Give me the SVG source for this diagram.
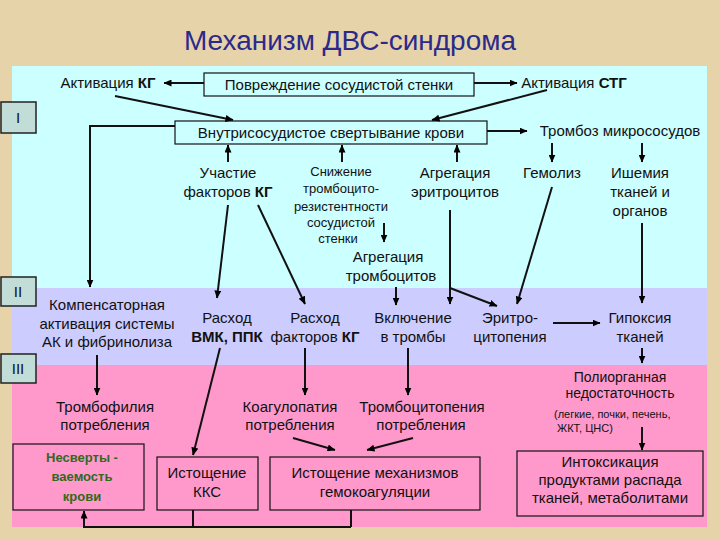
<svg xmlns="http://www.w3.org/2000/svg" width="720" height="540" viewBox="0 0 720 540">
<defs>
<marker id="ah" viewBox="0 0 8 7" refX="7.5" refY="3.5" markerWidth="8" markerHeight="7" markerUnits="userSpaceOnUse" orient="auto">
<path d="M0,0 L8,3.5 L0,7 z" fill="#000"/>
</marker>
<style>
text{font-family:"Liberation Sans",Arial,sans-serif;font-size:15px;fill:#111;text-anchor:middle}
.s{font-size:13px}
.m{font-size:14px}
.xs{font-size:11px;text-anchor:start}
.b{font-weight:bold}
.box{fill:none;stroke:#111;stroke-width:1.2}
.rom{fill:#c2dcd8;stroke:#222;stroke-width:1.5}
.c line,.c path{stroke:#111;stroke-width:2;fill:none;marker-end:url(#ah)}
.c .n{marker-end:none}
.g{fill:#2f6a1c;font-weight:bold;font-size:13px}
</style>
</defs>
<rect width="720" height="540" fill="#e7d3a9"/>
<rect x="12" y="66" width="695" height="222" fill="#ccffff"/>
<rect x="12" y="288" width="695" height="77" fill="#ccccff"/>
<rect x="12" y="365" width="695" height="162" fill="#ff99cc"/>
<text x="350" y="50" style="font-size:27px;fill:#2b2a8c" textLength="332" lengthAdjust="spacingAndGlyphs">Механизм ДВС-синдрома</text>

<g id="roman1"><rect class="rom" x="1" y="102" width="35" height="31"/><text x="18" y="123">I</text></g>
<g id="roman2"><rect class="rom" x="1" y="277" width="35" height="29"/><text x="18" y="297">II</text></g>
<g id="roman3"><rect class="rom" x="1" y="354" width="35" height="29"/><text x="18" y="374">III</text></g>

<g id="aktKG"><text x="108" y="88">Активация <tspan class="b">КГ</tspan></text></g>
<g id="povr"><rect class="box" x="204" y="73" width="270" height="23"/><text x="339" y="90">Повреждение сосудистой стенки</text></g>
<g id="aktSTG"><text x="574" y="88">Активация <tspan class="b">СТГ</tspan></text></g>
<g id="vnutr"><rect class="box" x="175" y="121" width="312" height="23"/><text x="331" y="138">Внутрисосудистое свертывание крови</text></g>
<g id="tromboz"><text x="620" y="136">Тромбоз микрососудов</text></g>
<g id="uchastie"><text x="228" y="178">Участие</text><text x="228" y="197">факторов <tspan class="b">КГ</tspan></text></g>
<g id="snizh"><text class="s" x="341" y="176">Снижение</text><text class="s" x="341" y="193">тромбоцито-</text><text class="s" x="341" y="211">резистентности</text><text class="s" x="341" y="227">сосудистой</text><text class="s" x="338" y="243">стенки</text></g>
<g id="agrEr"><text x="455" y="178">Агрегация</text><text x="455" y="197">эритроцитов</text></g>
<g id="gemoliz"><text x="552" y="178">Гемолиз</text></g>
<g id="ishem"><text x="640" y="178">Ишемия</text><text x="640" y="197">тканей и</text><text x="640" y="216">органов</text></g>
<g id="agrTr"><text x="388" y="262">Агрегация</text><text x="391" y="281">тромбоцитов</text></g>

<g id="komp"><text x="107" y="310">Компенсаторная</text><text x="107" y="329">активация системы</text><text x="107" y="347">АК и фибринолиза</text></g>
<g id="rashVMK"><text x="227" y="323">Расход</text><text x="227" y="342" class="b">ВМК, ППК</text></g>
<g id="rashKG"><text x="315" y="323">Расход</text><text x="315" y="342">факторов <tspan class="b">КГ</tspan></text></g>
<g id="vkl"><text x="413" y="323">Включение</text><text x="413" y="342">в тромбы</text></g>
<g id="eritro"><text x="510" y="323">Эритро-</text><text x="510" y="342">цитопения</text></g>
<g id="gipox"><text x="640" y="323">Гипоксия</text><text x="640" y="342">тканей</text></g>

<g id="poliorg"><text class="m" x="620" y="382">Полиорганная</text><text class="m" x="620" y="398">недостаточность</text><text class="xs" x="554" y="418">(легкие, почки, печень,</text><text class="xs" x="557" y="432">ЖКТ, ЦНС)</text></g>
<g id="trombofil"><text x="105" y="412">Тромбофилия</text><text x="105" y="430">потребления</text></g>
<g id="koag"><text x="290" y="412">Коагулопатия</text><text x="290" y="430">потребления</text></g>
<g id="trombocit"><text x="422" y="412">Тромбоцитопения</text><text x="421" y="430">потребления</text></g>
<g id="nesv"><rect class="box" x="13" y="444" width="131" height="66"/><text class="g" x="82" y="462">Несверты -</text><text class="g" x="82" y="481">ваемость</text><text class="g" x="82" y="501">крови</text></g>
<g id="istKKS"><rect class="box" x="157" y="457" width="101" height="53"/><text x="207" y="478">Истощение</text><text x="207" y="497">ККС</text></g>
<g id="istMeh"><rect class="box" x="270" y="457" width="210" height="53"/><text x="375" y="478">Истощение механизмов</text><text x="375" y="497">гемокоагуляции</text></g>
<g id="intox"><rect class="box" x="517" y="451" width="186" height="65"/><text x="610" y="467">Интоксикация</text><text x="610" y="485">продуктами распада</text><text x="610" y="503">тканей, метаболитами</text></g>

<g id="connectors" class="c">
<line x1="204" y1="83" x2="164" y2="83"/>
<line x1="474" y1="83" x2="517" y2="83"/>
<line x1="115" y1="96" x2="233" y2="120"/>
<line x1="547" y1="90" x2="432" y2="120"/>
<line x1="487" y1="131" x2="527" y2="131"/>
<path d="M175,126 H90 V287"/>
<line x1="228" y1="162" x2="228" y2="145"/>
<line x1="342" y1="162" x2="342" y2="145"/>
<line x1="457" y1="162" x2="457" y2="145"/>
<line x1="552" y1="143" x2="552" y2="162"/>
<line x1="642" y1="143" x2="642" y2="162"/>
<line x1="384" y1="223" x2="384" y2="242"/>
<line x1="228" y1="205" x2="217" y2="298"/>
<line x1="258" y1="205" x2="305" y2="304"/>
<line x1="450" y1="210" x2="450" y2="304"/>
<line x1="450" y1="288" x2="497" y2="306"/>
<line x1="552" y1="187" x2="517" y2="304"/>
<line x1="642" y1="223" x2="642" y2="303"/>
<line x1="396" y1="287" x2="396" y2="305"/>
<line x1="553" y1="323" x2="600" y2="323"/>
<line x1="97" y1="355" x2="97" y2="395"/>
<line x1="220" y1="348" x2="193" y2="455"/>
<line x1="305" y1="348" x2="305" y2="395"/>
<line x1="408" y1="348" x2="408" y2="395"/>
<line x1="642" y1="348" x2="642" y2="363"/>
<line x1="642" y1="427" x2="642" y2="450"/>
<line x1="293" y1="438" x2="335" y2="450"/>
<line x1="413" y1="438" x2="367" y2="450"/>
<path class="n" d="M193,510 V527 M351,510 V527"/>
<path d="M351,527 H84 V511"/>
</g>
</svg>
